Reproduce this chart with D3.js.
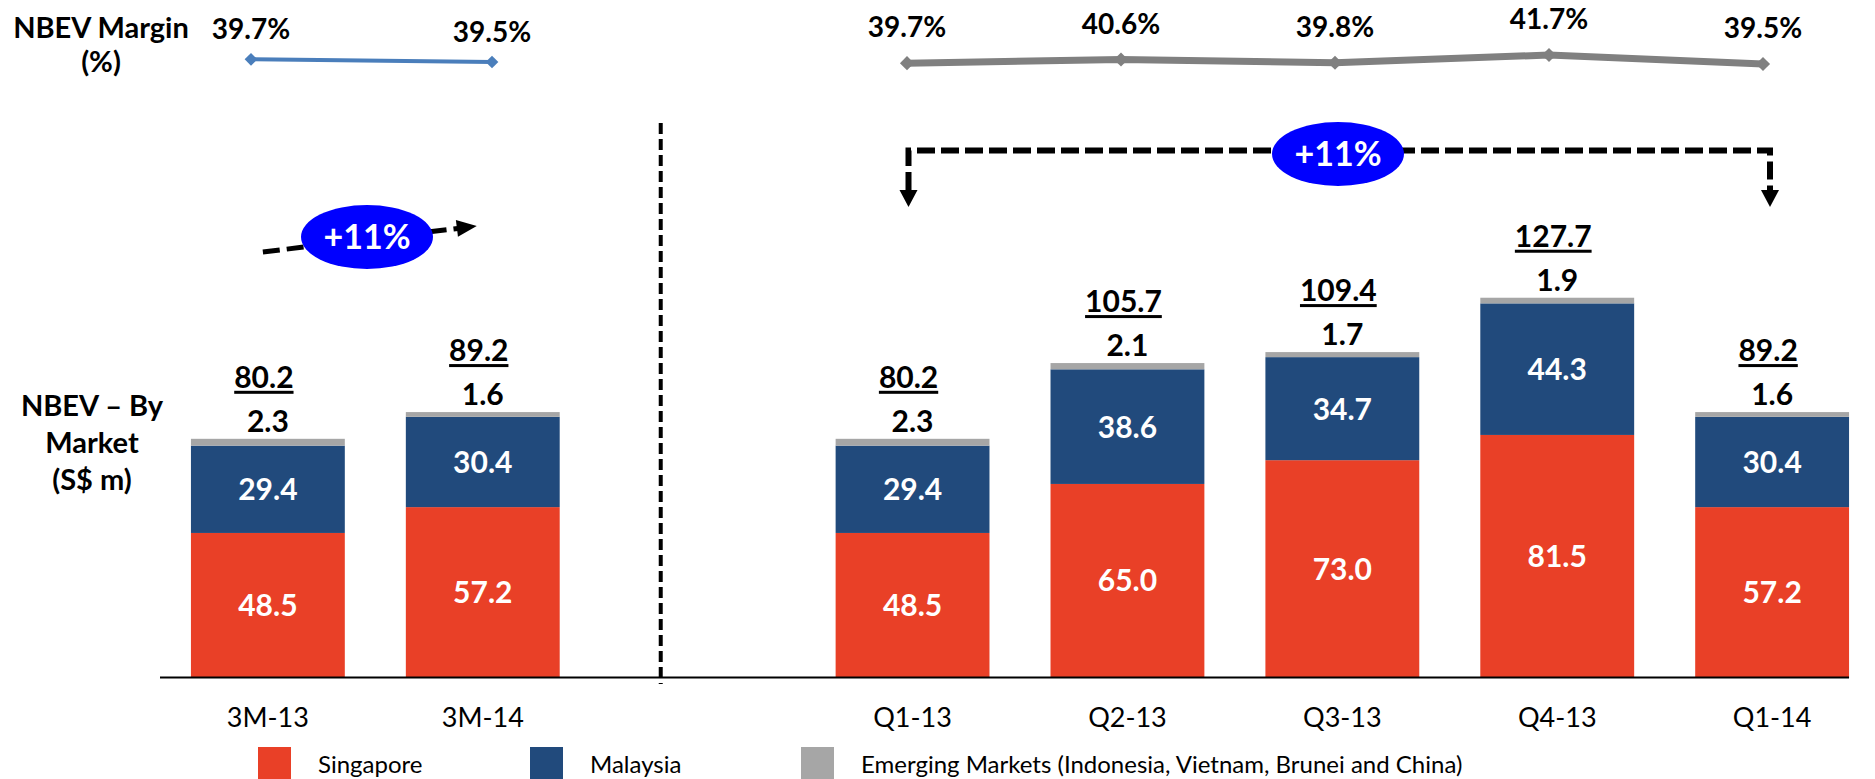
<!DOCTYPE html>
<html>
<head>
<meta charset="utf-8">
<script src="https://cdn.jsdelivr.net/npm/d3@7/dist/d3.min.js"></script>
<style>
  html, body { margin: 0; padding: 0; background: #fff; }
  svg { display: block; font-family: Lato, "Open Sans", sans-serif; }
</style>
</head>
<body>
<svg id="chart" width="1875" height="779"></svg>
<script>
// Periods: year-to-date comparison on the left, quarterly trend on the right
const periodsYTD = ["3M-13", "3M-14"];
const periodsQ = ["Q1-13", "Q2-13", "Q3-13", "Q4-13", "Q1-14"];
const periods = [...periodsYTD, ...periodsQ];

// NBEV by market (S$ m), one value per period
const singapore = [48.5, 57.2, 48.5, 65.0, 73.0, 81.5, 57.2];
const malaysia  = [29.4, 30.4, 29.4, 38.6, 34.7, 44.3, 30.4];
const emerging  = [2.3, 1.6, 2.3, 2.1, 1.7, 1.9, 1.6];
const totals    = [80.2, 89.2, 80.2, 105.7, 109.4, 127.7, 89.2];

// NBEV margin (%)
const marginYTD = [39.7, 39.5];
const marginQ   = [39.7, 40.6, 39.8, 41.7, 39.5];

const seriesNames = ["Singapore", "Malaysia", "Emerging Markets (Indonesia, Vietnam, Brunei and China)"];
const seriesColors = ["#E94027", "#214A7C", "#A6A6A6"];
const growthLabel = "+11%";

const svg = d3.select("#chart");

// One band per period, plus an empty slot separating the two groups
const spacer = "__spacer__";
const slots = [...periodsYTD, spacer, ...periodsQ];
const x = d3.scaleBand()
  .domain(slots)
  .range([160, 1880])
  .paddingInner(0.284)
  .paddingOuter(0.144);
const bw = x.bandwidth();
const cx = p => x(p) + bw / 2;

const baseY = 677;
const y = d3.scaleLinear().domain([0, 100]).range([baseY, baseY - 297]);

// Stack the three markets
const rows = periods.map((p, i) => ({
  period: p,
  Singapore: singapore[i],
  Malaysia: malaysia[i],
  Emerging: emerging[i],
  total: totals[i]
}));
const keys = ["Singapore", "Malaysia", "Emerging"];
const stacked = d3.stack().keys(keys)(rows);

const barsG = svg.append("g");
stacked.forEach((layer, li) => {
  barsG.selectAll(null)
    .data(layer)
    .join("rect")
    .attr("x", d => x(d.data.period))
    .attr("width", bw)
    .attr("y", d => y(d[1]))
    .attr("height", d => y(d[0]) - y(d[1]))
    .attr("fill", seriesColors[li]);
});

// Values inside the Singapore and Malaysia segments
[0, 1].forEach(li => {
  barsG.selectAll(null)
    .data(stacked[li])
    .join("text")
    .attr("x", d => cx(d.data.period))
    .attr("y", d => (y(d[0]) + y(d[1])) / 2 + 11)
    .attr("text-anchor", "middle")
    .attr("fill", "#fff")
    .attr("font-weight", 700)
    .attr("font-size", 30)
    .text(d => (d[1] - d[0]).toFixed(1));
});

// Emerging markets value just above each bar
barsG.selectAll(null)
  .data(stacked[2])
  .join("text")
  .attr("x", d => cx(d.data.period))
  .attr("y", d => y(d[1]) - 7)
  .attr("text-anchor", "middle")
  .attr("fill", "#000")
  .attr("font-weight", 700)
  .attr("font-size", 30)
  .text(d => (d[1] - d[0]).toFixed(1));

// Underlined totals
const totalG = barsG.selectAll(null)
  .data(rows)
  .join("g");
totalG.append("text")
  .attr("x", d => cx(d.period) - 4)
  .attr("y", d => y(d.total) - 51)
  .attr("text-anchor", "middle")
  .attr("fill", "#000")
  .attr("font-weight", 700)
  .attr("font-size", 30)
  .text(d => d.total.toFixed(1));
totalG.each(function(d) {
  const g = d3.select(this);
  const t = g.select("text");
  const w = t.node().getComputedTextLength();
  const tx = cx(d.period) - 4;
  const ty = y(d.total) - 51 + 3;
  g.append("rect")
    .attr("x", tx - w / 2)
    .attr("y", ty)
    .attr("width", w)
    .attr("height", 3)
    .attr("fill", "#000");
});

// Category axis
const axis = d3.axisBottom(x)
  .tickValues(periods)
  .tickSize(0)
  .tickPadding(31);
const axisG = svg.append("g")
  .attr("transform", `translate(0,${baseY})`)
  .call(axis);
axisG.select(".domain").remove();
axisG.selectAll("text")
  .attr("font-size", 27)
  .attr("fill", "#000")
  .style("font-family", "Lato, 'Open Sans', sans-serif");
svg.append("line")
  .attr("x1", 160)
  .attr("x2", x(periods[periods.length - 1]) + bw)
  .attr("y1", baseY + 0.5)
  .attr("y2", baseY + 0.5)
  .attr("stroke", "#000")
  .attr("stroke-width", 2);

// Divider between the year-to-date and quarterly groups
const dividerX = x(spacer) + bw * 0.26;
svg.append("line")
  .attr("x1", dividerX).attr("x2", dividerX)
  .attr("y1", 123).attr("y2", 684)
  .attr("stroke", "#000")
  .attr("stroke-width", 4)
  .attr("stroke-dasharray", "11 5");

// Margin lines
const xMarginYTD = d3.scalePoint().domain(periodsYTD).range([251, 492]);
const yMarginYTD = d3.scaleLinear().domain([39.5, 39.7]).range([62, 59.3]);
const xMarginQ = d3.scalePoint().domain(periodsQ).range([907, 1763]);
const yMarginQ = d3.scaleLinear().domain([39.5, 41.7]).range([64, 55]);

function drawMargin(cats, vals, xs, ys, color, width, size, labelGap) {
  const pts = cats.map((c, i) => [xs(c), ys(vals[i]), vals[i]]);
  svg.append("path")
    .attr("d", d3.line()(pts.map(p => [p[0], p[1]])))
    .attr("fill", "none")
    .attr("stroke", color)
    .attr("stroke-width", width);
  svg.selectAll(null)
    .data(pts)
    .join("path")
    .attr("transform", p => `translate(${p[0]},${p[1]}) rotate(45)`)
    .attr("d", `M${-size / 2},${-size / 2}h${size}v${size}h${-size}Z`)
    .attr("fill", color);
  svg.selectAll(null)
    .data(pts)
    .join("text")
    .attr("x", p => p[0])
    .attr("y", p => p[1] - labelGap)
    .attr("text-anchor", "middle")
    .attr("font-weight", 700)
    .attr("font-size", 28)
    .attr("fill", "#000")
    .text(p => p[2].toFixed(1) + "%");
}
drawMargin(periodsYTD, marginYTD, xMarginYTD, yMarginYTD, "#4A7EBB", 4, 9, 20);
drawMargin(periodsQ, marginQ, xMarginQ, yMarginQ, "#808080", 7, 10, 26);

// Row titles
function multiline(lines, xPos, y0, lh) {
  const t = svg.append("text")
    .attr("text-anchor", "middle")
    .attr("font-weight", 700)
    .attr("font-size", 29)
    .attr("fill", "#000");
  lines.forEach((l, i) => {
    t.append("tspan").attr("x", xPos).attr("y", y0 + i * lh).text(l);
  });
}
multiline(["NBEV Margin", "(%)"], 101, 38, 34);
multiline(["NBEV \u2013 By", "Market", "(S$ m)"], 92, 416, 37);

// Growth annotations
function arrowHead(tipX, tipY, angle, len, wid) {
  svg.append("path")
    .attr("transform", `translate(${tipX},${tipY}) rotate(${angle})`)
    .attr("d", `M0,0L${-len},${-wid / 2}L${-len},${wid / 2}Z`)
    .attr("fill", "#000");
}
function bubble(cxp, cyp) {
  svg.append("ellipse")
    .attr("cx", cxp).attr("cy", cyp)
    .attr("rx", 66).attr("ry", 32)
    .attr("fill", "#0000FF");
  svg.append("text")
    .attr("x", cxp).attr("y", cyp + 12)
    .attr("text-anchor", "middle")
    .attr("font-weight", 700)
    .attr("font-size", 34)
    .attr("fill", "#fff")
    .text(growthLabel);
}

// Year-to-date arrow
const a0 = [cx(periodsYTD[0]) - 5, 252];
const a1 = [cx(periodsYTD[1]) - 6, 226];
const ang = Math.atan2(a1[1] - a0[1], a1[0] - a0[0]) * 180 / Math.PI;
const headLen = 20;
const rad = ang * Math.PI / 180;
svg.append("line")
  .attr("x1", a0[0]).attr("y1", a0[1])
  .attr("x2", a1[0] - headLen * Math.cos(rad) + 1).attr("y2", a1[1] - headLen * Math.sin(rad))
  .attr("stroke", "#000")
  .attr("stroke-width", 5)
  .attr("stroke-dasharray", "17 7");
arrowHead(a1[0], a1[1], ang, headLen, 17);
bubble(367, 237);

// Quarterly bracket
const bx0 = 908.5, bx1 = 1770, bTop = 150.5, tipY = 207, hl = 17;
svg.append("path")
  .attr("d", `M${bx0},${tipY - hl}V${bTop}H${bx1}V${tipY - hl}`)
  .attr("fill", "none")
  .attr("stroke", "#000")
  .attr("stroke-width", 6)
  .attr("stroke-dasharray", "18 6");
arrowHead(bx0, tipY, 90, hl, 18);
arrowHead(bx1, tipY, 90, hl, 18);
bubble(1338, 154);

// Legend
const legendX = [258, 530, 801];
const legend = svg.append("g");
seriesNames.forEach((name, i) => {
  legend.append("rect")
    .attr("x", legendX[i]).attr("y", 747)
    .attr("width", 33).attr("height", 34)
    .attr("fill", seriesColors[i]);
  legend.append("text")
    .attr("x", legendX[i] + 60).attr("y", 773)
    .attr("font-size", 24)
    .attr("fill", "#000")
    .text(name);
});
</script>
</body>
</html>
